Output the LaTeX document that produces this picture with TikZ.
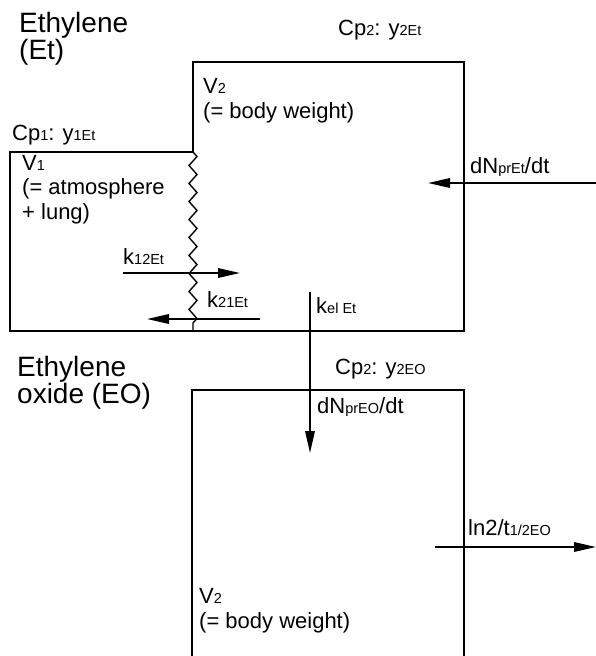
\documentclass[tikz,border=0pt]{standalone}
\usepackage{fontspec}
\setmainfont{Liberation Sans}
\usepackage{tikz}
\usetikzlibrary{arrows.meta,positioning,decorations.pathmorphing}
\newcommand{\sml}[1]{{\fontsize{14.5}{14.5}\selectfont #1}}
\tikzset{
  titletext/.style={anchor=base west,inner sep=0pt,align=left,font=\fontsize{28}{27}\selectfont},
  labeltext/.style={anchor=base west,inner sep=0pt,align=left,font=\fontsize{22}{24.5}\selectfont},
  wall/.style={line width=1.8pt,line join=miter},
  membrane/.style={line width=1.4pt,decorate,decoration={zigzag,segment length=18pt,amplitude=4pt}},
  flowarrow/.style={-{Triangle[length=22pt,width=9.5pt]},line width=1.8pt}
}

\begin{document}
\begin{tikzpicture}[x=1pt,y=-1pt]
\useasboundingbox (0,0) rectangle (596,656);
% compartment corners
\coordinate (lunga) at (10,152);
\coordinate (lungb) at (10,331);
\coordinate (gate) at (193,152);
\coordinate (gateb) at (193,331);
\coordinate (bodya) at (193,62);
\coordinate (bodyb) at (464,62);
\coordinate (bodyc) at (464,331);
\coordinate (eoa) at (192,656);
\coordinate (eob) at (192,390);
\coordinate (eoc) at (464,390);
\coordinate (eod) at (464,656);
% arrow ends
\coordinate (inA) at (123,273);  \coordinate (inB) at (240,273);
\coordinate (outA) at (260,319); \coordinate (outB) at (147,319);
\coordinate (prA) at (596,183);  \coordinate (prB) at (428,183);
\coordinate (elA) at (310,292);  \coordinate (elB) at (310,453);
\coordinate (hlA) at (435,547);  \coordinate (hlB) at (596,547);

% walls
\draw[wall] (gate) -- (bodya) -- (bodyb) -- (bodyc) -- (lungb) -- (lunga) -- (gate);
\draw[membrane] (gate) -- (gateb);
\draw[wall] (eoa) -- (eob) -- (eoc) -- (eod);

% texts (multi-line nodes sit on their last line)
\node[titletext] (ttlet) at (19,59) {Ethylene\\(Et)};
\node[titletext] (ttleo) at (17,403) {Ethylene\\oxide (EO)};
\node[labeltext] (cpone) at (12,140) {Cp\sml{1}: y\sml{1Et}};
\node[labeltext] (cptwo) at (338,35) {Cp\sml{2}: y\sml{2Et}};
\node[labeltext] (cpeo) at (335,374) {Cp\sml{2}: y\sml{2EO}};
\node[labeltext] (vone) at (22,219) {V\sml{1}\\(= atmosphere\\+ lung)};
\node[labeltext] (vtwo) at (203,118) {V\sml{2}\\(= body weight)};
\node[labeltext] (vtwoeo) at (199,628) {V\sml{2}\\(= body weight)};
\node[labeltext] (konetwo) at (123,264) {k\sml{12Et}};
\node[labeltext] (ktwoone) at (207,307) {k\sml{21Et}};
\node[labeltext] (kel) at (316,313) {k\sml{el Et}};
\node[labeltext] (prodet) at (470,173) {dN\sml{prEt}/dt};
\node[labeltext] (prodeo) at (317,413) {dN\sml{prEO}/dt};
\node[labeltext] (halflife) at (468,535) {ln2/t\sml{1/2EO}};

% fluxes
\draw[flowarrow] (inA) -- (inB);
\draw[flowarrow] (outA) -- (outB);
\draw[flowarrow] (prA) -- (prB);
\draw[flowarrow] (elA) -- (elB);
\draw[flowarrow] (hlA) -- (hlB);
\end{tikzpicture}
\end{document}
